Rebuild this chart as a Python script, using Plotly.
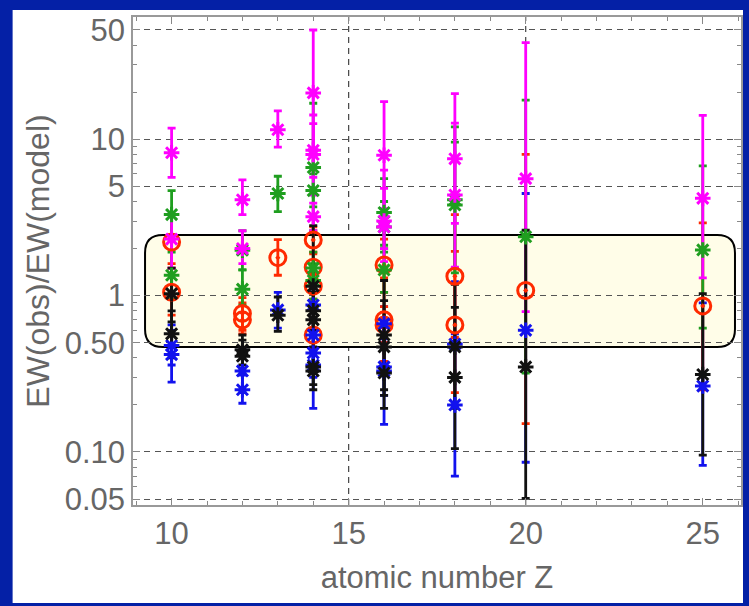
import plotly.graph_objects as go

# ---------------- data ----------------
# each series: atomic number Z, ratio value, lower bound, upper bound
blue_z   = [10, 10, 12, 12, 13, 14, 14, 14, 14, 16, 16, 16, 18, 18, 20, 25]
blue_v   = [0.48, 0.42, 0.33, 0.25, 0.81, 0.87, 0.56, 0.43, 0.36, 0.66, 0.35, 0.33, 0.49, 0.20, 0.60, 0.264]
blue_lo  = [0.36, 0.28, 0.24, 0.205, 0.62, 0.70, 0.45, 0.30, 0.19, 0.50, 0.23, 0.15, 0.195, 0.070, 0.086, 0.082]
blue_hi  = [0.65, 0.60, 0.45, 0.31, 1.05, 1.10, 0.70, 0.60, 0.68, 0.85, 0.53, 0.70, 1.23, 0.57, 4.5, 0.90]

red_z    = [10, 10, 12, 12, 13, 14, 14, 14, 14, 16, 16, 16, 18, 18, 20, 25]
red_v    = [2.2, 1.05, 0.77, 0.70, 1.75, 2.27, 1.52, 1.15, 0.56, 1.57, 0.70, 0.65, 1.33, 0.65, 1.08, 0.86]
red_lo   = [1.6, 0.75, 0.60, 0.57, 1.35, 1.90, 1.25, 0.95, 0.46, 1.05, 0.38, 0.50, 0.54, 0.24, 0.152, 0.25]
red_hi   = [3.3, 1.50, 0.97, 0.90, 2.28, 2.75, 1.85, 1.40, 0.68, 2.30, 1.30, 0.85, 3.3, 1.92, 8.0, 2.92]

green_z  = [10, 10, 12, 12, 13, 14, 14, 14, 14, 16, 16, 16, 18, 18, 20, 25]
green_v  = [3.3, 1.35, 1.95, 1.10, 4.5, 6.6, 4.7, 1.5, 1.25, 3.4, 2.75, 1.46, 4.1, 3.8, 2.38, 1.96]
green_lo = [2.3, 0.95, 1.46, 0.87, 3.45, 2.6, 3.7, 1.2, 0.95, 2.1, 1.9, 1.05, 1.4, 1.5, 0.32, 0.62]
green_hi = [4.7, 1.90, 2.60, 1.46, 5.8, 17.0, 6.0, 1.9, 1.60, 5.6, 4.0, 2.0, 12.0, 9.6, 17.8, 6.75]

magenta_z  = [10, 10, 12, 12, 13, 14, 14, 14, 14, 16, 16, 16, 18, 18, 20, 25]
magenta_v  = [8.2, 2.3, 4.1, 2.0, 11.5, 19.8, 8.5, 8.0, 3.2, 7.9, 3.0, 2.75, 7.5, 4.4, 5.6, 4.19]
magenta_lo = [5.7, 1.5, 3.3, 1.6, 8.9, 7.9, 5.7, 4.4, 2.6, 3.6, 1.65, 2.0, 2.9, 1.52, 0.79, 1.30]
magenta_hi = [11.8, 3.3, 5.5, 2.6, 15.2, 50.0, 12.6, 14.3, 3.9, 17.4, 6.35, 4.85, 19.6, 12.7, 41.5, 14.2]

black_z  = [10, 10, 12, 12, 13, 14, 14, 14, 14, 14, 16, 16, 16, 18, 18, 20, 25]
black_v  = [1.03, 0.57, 0.45, 0.41, 0.75, 1.15, 0.80, 0.70, 0.35, 0.33, 0.56, 0.47, 0.32, 0.47, 0.30, 0.35, 0.313]
black_lo = [0.68, 0.40, 0.36, 0.33, 0.59, 0.47, 0.60, 0.55, 0.27, 0.25, 0.25, 0.23, 0.19, 0.19, 0.105, 0.0505, 0.0955]
black_hi = [1.50, 0.80, 0.56, 0.52, 0.98, 2.80, 1.05, 0.90, 0.45, 0.43, 1.25, 0.93, 0.55, 1.18, 0.84, 2.62, 1.03]

# y tick labels, grid positions, highlighted band
y_tickvals = [0.05, 0.1, 0.5, 1, 5, 10, 50]
y_ticktext = ["0.05", "0.10", "0.50", "1", "5", "10", "50"]
x_tickvals = [10, 15, 20, 25]
x_gridlines = [15, 20]
band_x = [9.25, 25.91]
band_y = [0.469, 2.44]

# ---------------- styling ----------------
COL = {
    "blue": "#1212ee",
    "red": "#ff2a00",
    "green": "#1f9e1f",
    "magenta": "#ff00ff",
    "black": "#111111",
}
series = {
    "blue": (blue_z, blue_v, blue_lo, blue_hi),
    "red": (red_z, red_v, red_lo, red_hi),
    "green": (green_z, green_v, green_lo, green_hi),
    "magenta": (magenta_z, magenta_v, magenta_lo, magenta_hi),
    "black": (black_z, black_v, black_lo, black_hi),
}

fig = go.Figure()

# error bars first (all series), then markers on top
for name in ["blue", "red", "green", "magenta", "black"]:
    z, v, lo, hi = series[name]
    fig.add_trace(go.Scatter(
        x=z, y=v, mode="markers",
        marker=dict(size=2, color="rgba(0,0,0,0)"),
        error_y=dict(type="data", symmetric=False,
                     array=[h - a for a, h in zip(v, hi)],
                     arrayminus=[a - l for a, l in zip(v, lo)],
                     color=COL[name], thickness=2.8, width=4),
        hoverinfo="skip", showlegend=False,
    ))

for name in ["red", "blue", "green", "magenta", "black"]:
    z, v, lo, hi = series[name]
    if name == "red":
        mk = dict(symbol="circle-open-dot", size=16, color=COL[name],
                  line=dict(color=COL[name], width=3))
    else:
        mk = dict(symbol="asterisk-open", size=13, color=COL[name],
                  line=dict(color=COL[name], width=3))
    fig.add_trace(go.Scatter(x=z, y=v, mode="markers", marker=mk,
                             showlegend=False))

# rounded highlighted band (data coordinates)
x0, x1 = band_x
y0, y1 = band_y
rx, ry = 0.5, 1.30
path = (f"M {x0+rx},{y0} L {x1-rx},{y0} Q {x1},{y0} {x1},{y0*ry} "
        f"L {x1},{y1/ry} Q {x1},{y1} {x1-rx},{y1} "
        f"L {x0+rx},{y1} Q {x0},{y1} {x0},{y1/ry} "
        f"L {x0},{y0*ry} Q {x0},{y0} {x0+rx},{y0} Z")

shapes = [
    # white page area inside the blue border
    dict(type="rect", xref="paper", yref="paper",
         x0=-0.198, x1=1.0033, y0=-0.2008, y1=1.0143,
         fillcolor="white", line=dict(width=0), layer="below"),
    dict(type="path", path=path, xref="x", yref="y",
         fillcolor="#fffde8", line=dict(color="black", width=2), layer="below"),
]
for gx in x_gridlines:
    shapes.append(dict(type="line", xref="x", yref="paper", x0=gx, x1=gx,
                       y0=0, y1=1, layer="below",
                       line=dict(color="#444444", width=1.2, dash="6px,5px")))

TXT = "#666666"
fig.update_layout(
    width=749, height=606,
    margin=dict(l=133, r=6, t=17, b=101),
    paper_bgcolor="#0420a6",
    plot_bgcolor="white",
    shapes=shapes,
    font=dict(family="Liberation Sans, Arial, sans-serif", color=TXT),
)
fig.update_xaxes(
    range=[8.91, 26.08],
    tickvals=x_tickvals, ticks="inside", ticklen=7, tickwidth=1,
    tickcolor="#888888",
    minor=dict(dtick=1, tick0=0, ticks="inside", ticklen=4, tickcolor="#888888",
               showgrid=False),
    showline=True, linecolor="#999999", linewidth=1.5, mirror="allticks",
    showgrid=False, zeroline=False,
    tickfont=dict(size=31, color=TXT),
    title=dict(text="atomic number Z", font=dict(size=31, color=TXT), standoff=16),
)
minor_y = [m * d for d in [0.01, 0.1, 1, 10] for m in [2, 3, 4, 6, 7, 8, 9]]
minor_y = [m for m in minor_y if 0.045 < m < 61]
fig.update_yaxes(
    type="log", range=[-1.339, 1.782],
    tickvals=y_tickvals, ticktext=y_ticktext,
    ticks="inside", ticklen=7, tickwidth=1, tickcolor="#888888",
    minor=dict(tickvals=minor_y, ticks="inside", ticklen=4, tickcolor="#888888",
               showgrid=False),
    showline=True, linecolor="#999999", linewidth=1.5, mirror="allticks",
    showgrid=True, gridcolor="#555555", gridwidth=1.2, griddash="6px,5px",
    zeroline=False,
    tickfont=dict(size=31, color=TXT),
    title=dict(text="EW(obs)/EW(model)", font=dict(size=32, color=TXT), standoff=6),
)

fig.write_html("out.html")
